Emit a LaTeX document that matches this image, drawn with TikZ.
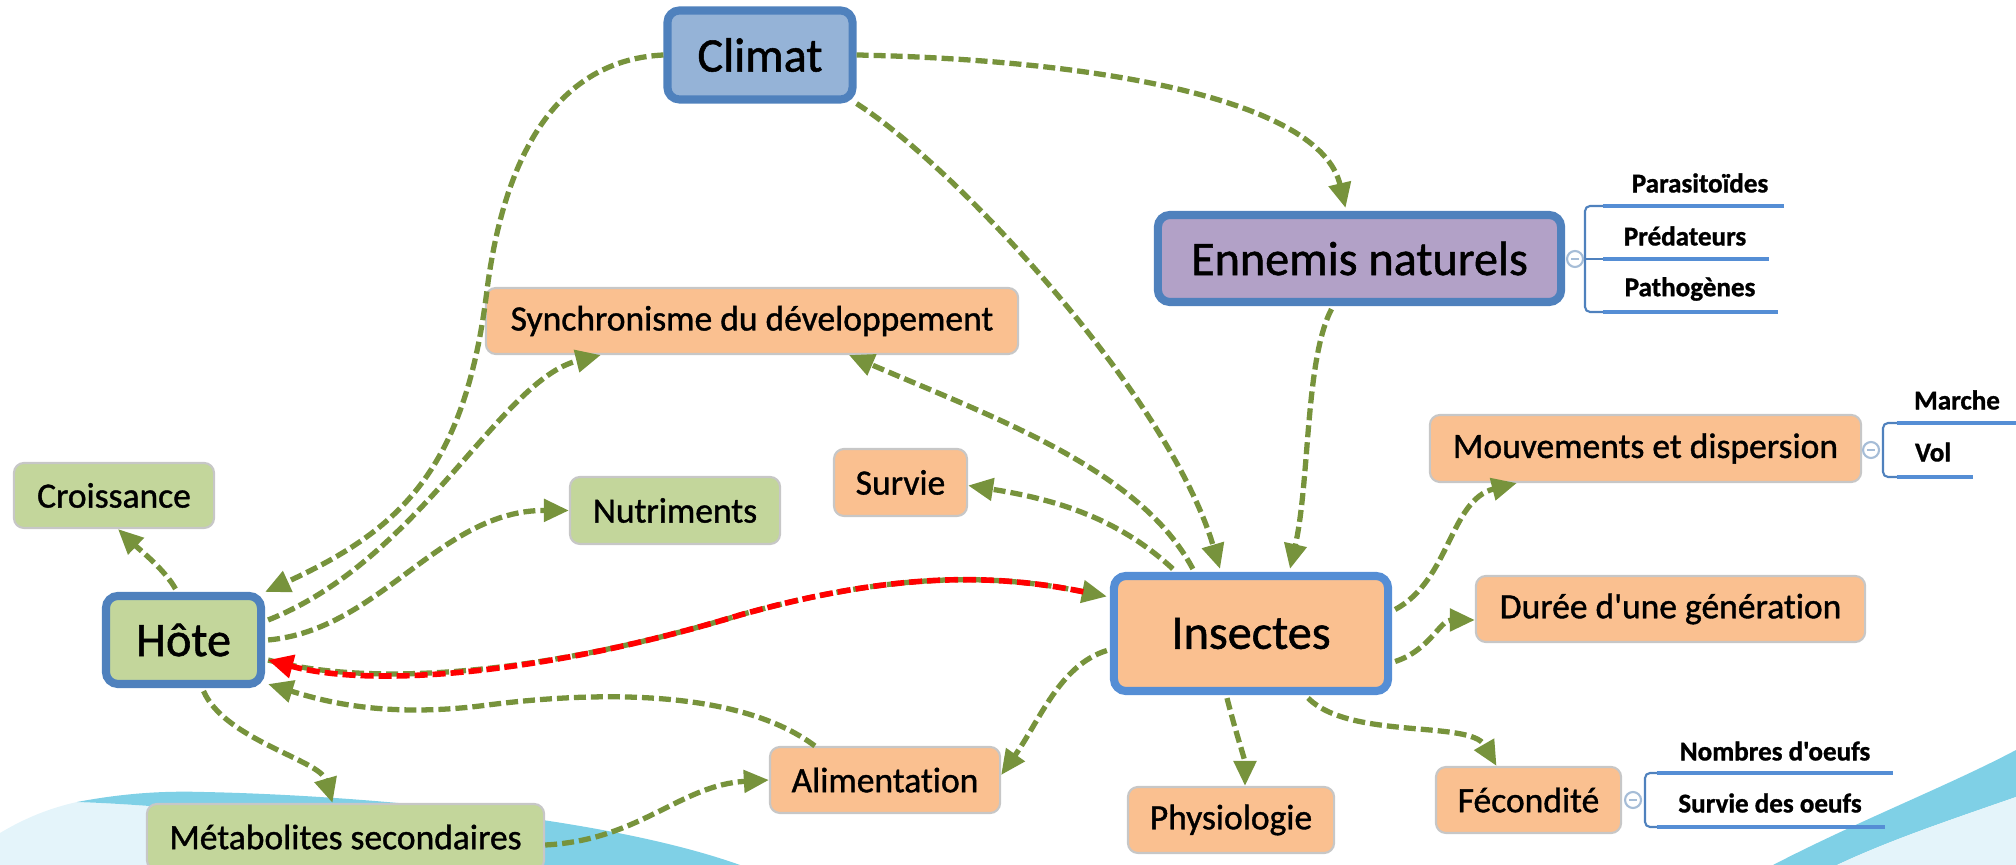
\documentclass[tikz,border=0pt]{standalone}
\usepackage{fontspec}
\setmainfont{Carlito}[Ligatures={TeXOff,CommonOff},FakeBold=1.1]
\usetikzlibrary{arrows.meta,calc}
\definecolor{cborder}{HTML}{4F81BD}
\definecolor{cborderL}{HTML}{558ED5}
\definecolor{climatfill}{HTML}{95B3D7}
\definecolor{ennfill}{HTML}{B2A1C7}
\definecolor{greenfill}{HTML}{C3D69B}
\definecolor{orangefill}{HTML}{FAC090}
\definecolor{arrowgreen}{HTML}{77933C}
\definecolor{cyanband}{HTML}{7FD0E6}
\definecolor{paleblue}{HTML}{E4F4FA}
\definecolor{brkblue}{HTML}{558ED5}
\definecolor{circgray}{HTML}{A6BDD7}
\begin{document}
\begin{tikzpicture}[x=0.01cm,y=-0.01cm,
  mainbox/.style={rounded corners=0.12cm, draw=cborder, line width=2.3pt, inner sep=0pt,
    font=\fontsize{13.7}{16}\selectfont},
  subbox/.style={rounded corners=0.1cm, draw=black!22, line width=0.6pt, inner sep=0pt,
    font=\fontsize{10.1}{12}\selectfont},
  leaf/.style={inner sep=0pt, font=\bfseries\fontsize{7.7}{9}\selectfont},
  conn/.style={draw=arrowgreen, line width=1.5pt, dash pattern=on 0.12cm off 0.05cm,
    -{Triangle[length=0.25cm,width=0.22cm]}},
  redconn/.style={draw=red, line width=1.6pt, dash pattern=on 0.13cm off 0.05cm,
    -{Triangle[length=0.25cm,width=0.23cm]}},
  brk/.style={draw=cborder, line width=0.6pt, rounded corners=0.05cm},
  uline/.style={draw=brkblue, line width=1.4pt},
  knob/.style={circle, draw=circgray, fill=white, line width=0.6pt, minimum size=0.16cm, inner sep=0pt}
]
\useasboundingbox (0,0) rectangle (2016,865);
% background swooshes
\begin{scope}
\clip (0,0) rectangle (2016,865);
\fill[paleblue] (0,833) .. controls (25,818) and (50,808) .. (77,802)
  .. controls (200,806) and (400,830) .. (540,865) -- (0,865) -- cycle;
\fill[cyanband] (77,802) .. controls (130,792) and (170,791) .. (204,792)
  .. controls (350,795) and (600,815) .. (740,865)
  -- (540,865) .. controls (400,830) and (200,806) .. (77,802) -- cycle;
\fill[cyanband] (1773,865) .. controls (1860,820) and (1950,785) .. (2016,750)
  -- (2016,797) .. controls (1950,820) and (1890,840) .. (1837,865) -- cycle;
\fill[paleblue] (1837,865) .. controls (1890,840) and (1950,820) .. (2016,797)
  -- (2016,865) -- cycle;
\end{scope}

% main nodes
\node[mainbox, fill=climatfill, minimum width=1.85cm, minimum height=0.89cm] (climat) at (760,55) {Climat};
\node[mainbox, fill=ennfill, minimum width=4.03cm, minimum height=0.87cm] (ennemis) at (1359.5,258.5) {Ennemis naturels};
\node[mainbox, fill=greenfill, minimum width=1.55cm, minimum height=0.88cm] (hote) at (183.5,640) {Hôte};
\node[mainbox, draw=cborderL, fill=orangefill, minimum width=2.74cm, minimum height=1.15cm] (insectes) at (1251,633.5) {Insectes};

% sub nodes
\node[subbox, fill=orangefill, minimum width=5.32cm, minimum height=0.66cm] (sync) at (752,321) {Synchronisme du développement};
\node[subbox, fill=greenfill, minimum width=2.0cm, minimum height=0.65cm] (croiss) at (114,495.5) {Croissance};
\node[subbox, fill=greenfill, minimum width=2.1cm, minimum height=0.67cm] (nutri) at (675,510.5) {Nutriments};
\node[subbox, fill=orangefill, minimum width=1.33cm, minimum height=0.67cm] (survie) at (900.5,482.5) {Survie};
\node[subbox, fill=orangefill, minimum width=2.3cm, minimum height=0.66cm] (alim) at (885,780) {Alimentation};
\node[subbox, fill=greenfill, minimum width=3.97cm, minimum height=0.66cm] (meta) at (345.5,837) {Métabolites secondaires};
\node[subbox, fill=orangefill, minimum width=4.31cm, minimum height=0.67cm] (mouv) at (1645.5,448.5) {Mouvements et dispersion};
\node[subbox, fill=orangefill, minimum width=3.89cm, minimum height=0.66cm] (duree) at (1670.5,609) {Durée d'une génération};
\node[subbox, fill=orangefill, minimum width=1.85cm, minimum height=0.66cm] (fecond) at (1528.5,800) {Fécondité};
\node[subbox, fill=orangefill, minimum width=2.06cm, minimum height=0.66cm] (physio) at (1231,820) {Physiologie};

% leaves: Ennemis naturels
\node[leaf] (parasit) at (1700,183) {Parasitoïdes};
\node[leaf] (predat) at (1685,236) {Prédateurs};
\node[leaf] (pathog) at (1690,289) {Pathogènes};
\draw[uline] (1603,206) -- (1784,206);
\draw[uline] (1603,259) -- (1769,259);
\draw[uline] (1603,312) -- (1778,312);
\draw[brk] (1603,206) -| (1585,312) -- (1603,312);
\draw[brk] (1585,259) -- (1603,259);
\node[knob] (k1) at (1575,259) {};
\draw[circgray, line width=0.5pt] (1571,259) -- (1579,259);

% leaves: Mouvements
\node[leaf] (marche) at (1957,400) {Marche};
\node[leaf] (vol) at (1933,452) {Vol};
\draw[uline] (1897,423) -- (2016,423);
\draw[uline] (1897,477) -- (1973,477);
\draw[brk] (1897,423) -| (1883,477) -- (1897,477);
\node[knob] (k2) at (1871,450) {};
\draw[circgray, line width=0.5pt] (1867,450) -- (1875,450);

% leaves: Fecondite
\node[leaf] (nombres) at (1775,751) {Nombres d'oeufs};
\node[leaf] (survoeuf) at (1770,803) {Survie des oeufs};
\draw[uline] (1657,773) -- (1893,773);
\draw[uline] (1657,827) -- (1885,827);
\draw[brk] (1657,773) -| (1645,827) -- (1657,827);
\node[knob] (k3) at (1633,800) {};
\draw[circgray, line width=0.5pt] (1629,800) -- (1637,800);

% connectors
\draw[conn] (climat.west) .. controls (560,60) and (505,150) .. (487,290)
  .. controls (465,470) and (400,530) .. (hote.north east);
\draw[conn] (climat.east) .. controls (1100,60) and (1320,100) .. ($(ennemis.north)+(-14,-3)$);
\draw[conn] (climat.south east) .. controls (960,170) and (1170,400) .. ($(insectes.north)+(-31,-3)$);
\draw[conn] ($(ennemis.south)+(-28,3)$) .. controls (1305,360) and (1310,480) .. ($(insectes.north)+(39,-3)$);
\draw[conn] ($(insectes.north west)+(83,-3)$) .. controls (1140,470) and (1000,420) .. ($(sync.south)+(97,0)$);
\draw[conn] ($(insectes.north west)+(63,-3)$) .. controls (1120,520) and (1060,500) .. ($(survie.east)+(0,3)$);
\draw[conn] ($(hote.east)+(3,-20)$) .. controls (420,560) and (500,380) .. ($(sync.south west)+(116,0)$);
\draw[conn] ($(hote.east)+(3,0)$) .. controls (380,630) and (440,510) .. (nutri.west);
\draw[conn] ($(hote.north)+(-8,-3)$) .. controls (165,570) and (140,550) .. ($(croiss.south)+(4,0)$);
\draw[conn] ($(hote.east)+(3,20)$) .. controls (380,690) and (560,670) .. (740,615)
  .. controls (900,570) and (1000,575) .. ($(insectes.west)+(-3,-37)$);
\draw[redconn, shorten <=0.24cm] ($(insectes.west)+(-3,-37)$) .. controls (1000,575) and (900,570) .. (740,615)
  .. controls (560,670) and (380,690) .. ($(hote.east)+(3,20)$);
\draw[conn] ($(alim.north west)+(46,0)$) .. controls (740,690) and (600,690) .. (480,706)
  .. controls (380,718) and (320,700) .. ($(hote.south east)+(3,-4)$);
\draw[conn] ($(hote.south)+(20,3)$) .. controls (225,740) and (320,760) .. ($(meta.north)+(-13,0)$);
\draw[conn] ($(meta.east)+(0,8)$) .. controls (640,840) and (680,785) .. (alim.west);
\draw[conn] ($(insectes.west)+(-3,17)$) .. controls (1060,665) and (1040,720) .. ($(alim.east)+(0,-5)$);
\draw[conn] ($(insectes.south)+(-24,3)$) .. controls (1235,730) and (1245,760) .. ($(physio.north)+(14,0)$);
\draw[conn] ($(insectes.south)+(57,3)$) .. controls (1350,740) and (1470,720) .. ($(fecond.north)+(-32,0)$);
\draw[conn] ($(insectes.east)+(3,-24)$) .. controls (1450,580) and (1450,500) .. ($(mouv.south west)+(88,0)$);
\draw[conn] ($(insectes.east)+(3,28)$) .. controls (1430,650) and (1440,620) .. ($(duree.west)+(0,11)$);
\end{tikzpicture}
\end{document}
